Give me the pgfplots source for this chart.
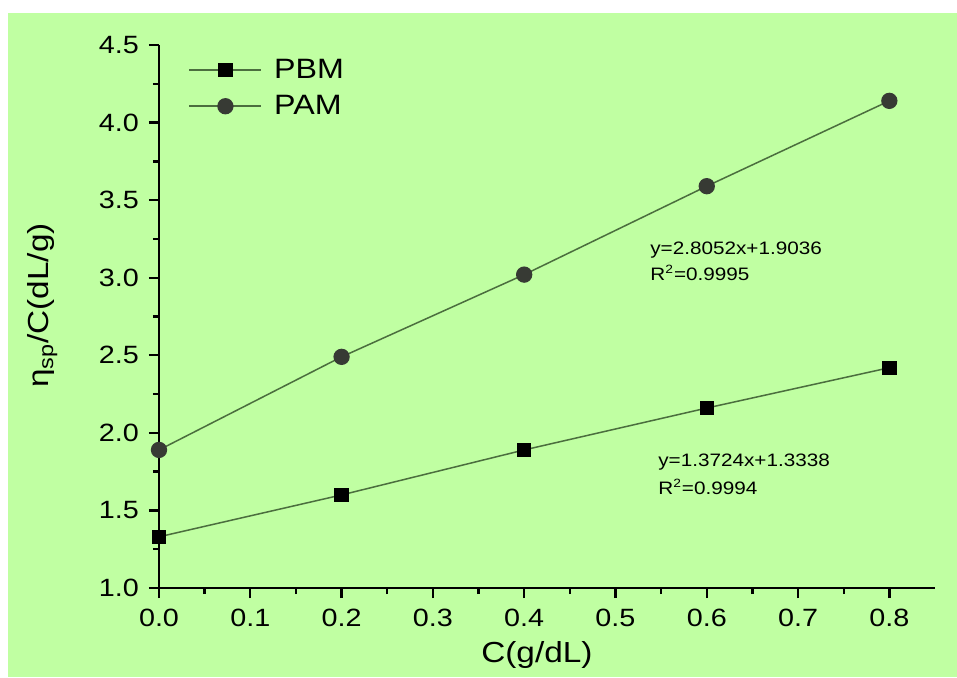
\documentclass[border=0pt]{standalone}
\usepackage{pgfplots}
\pgfplotsset{compat=1.18}
\usepackage{fontspec}
\setmainfont{Liberation Sans}[FakeStretch=1.15]
\definecolor{bggreen}{RGB}{192,255,162}
\definecolor{linegreen}{RGB}{75,110,62}
\definecolor{pamgray}{RGB}{55,58,52}
\begin{document}
\begin{tikzpicture}
\fill[white] (-79.5pt,-44.5pt) rectangle (399pt,294pt);
\fill[bggreen] (-75.5pt,-44.5pt) rectangle (399pt,287.5pt);
\begin{axis}[
  scale only axis,
  width=388pt, height=271.5pt,
  xmin=0, xmax=0.85, ymin=1.0, ymax=4.5,
  axis lines=left,
  axis line style={-, line width=1.3pt, black},
  every tick/.style={black, line width=1.2pt},
  tick align=outside,
  major tick length=5pt,
  minor tick length=3pt,
  xtick={0,0.1,...,0.81},
  ytick={1.0,1.5,...,4.51},
  minor x tick num=1,
  minor y tick num=1,
  xticklabel style={yshift=-2pt, /pgf/number format/.cd, fixed, fixed zerofill, precision=1},
  yticklabel style={xshift=-1.5pt, /pgf/number format/.cd, fixed, fixed zerofill, precision=1},
  /pgf/number format/assume math mode=true,
  tick label style={font=\fontsize{12.5}{14}\selectfont},
  label style={font=\fontsize{14.5}{16}\selectfont},
  xlabel={C(g/dL)},
  ylabel={η\textsubscript{sp}/C(dL/g)},
  xlabel style={at={(axis description cs:0.487,-0.123)}, anchor=center},
  ylabel style={at={(axis description cs:-0.15,0.52)}, anchor=center},
  legend style={draw=none, fill=none, at={(axis description cs:0.03,0.99)}, anchor=north west,
    font=\fontsize{14}{16}\selectfont, row sep=3pt},
  legend cell align=left,
  legend image code/.code={\draw[mark repeat=2,mark phase=2] plot coordinates {(0pt,0pt) (18pt,0pt) (36pt,0pt)}; \path (40pt,0pt);},
  clip=false,
]
\addplot[linegreen, line width=0.75pt, mark=square*, mark size=3.2pt,
  mark options={draw=black, fill=black, solid}]
  coordinates {(0,1.33) (0.2,1.60) (0.4,1.89) (0.6,2.16) (0.8,2.42)};
\addlegendentry{PBM}
\addplot[linegreen, line width=0.75pt, mark=*, mark size=3.7pt,
  mark options={draw=pamgray, fill=pamgray, solid}]
  coordinates {(0,1.89) (0.2,2.49) (0.4,3.02) (0.6,3.59) (0.8,4.14)};
\addlegendentry{PAM}
\node[anchor=west, font=\fontsize{9}{11}\selectfont, inner sep=0pt] at (axis cs:0.5378,3.18) {y=2.8052x+1.9036};
\node[anchor=west, font=\fontsize{9}{11}\selectfont, inner sep=0pt] at (axis cs:0.5378,3.03) {R\textsuperscript{2}=0.9995};
\node[anchor=west, font=\fontsize{9}{11}\selectfont, inner sep=0pt] at (axis cs:0.5465,1.813) {y=1.3724x+1.3338};
\node[anchor=west, font=\fontsize{9}{11}\selectfont, inner sep=0pt] at (axis cs:0.5465,1.652) {R\textsuperscript{2}=0.9994};
\end{axis}
\end{tikzpicture}
\end{document}
